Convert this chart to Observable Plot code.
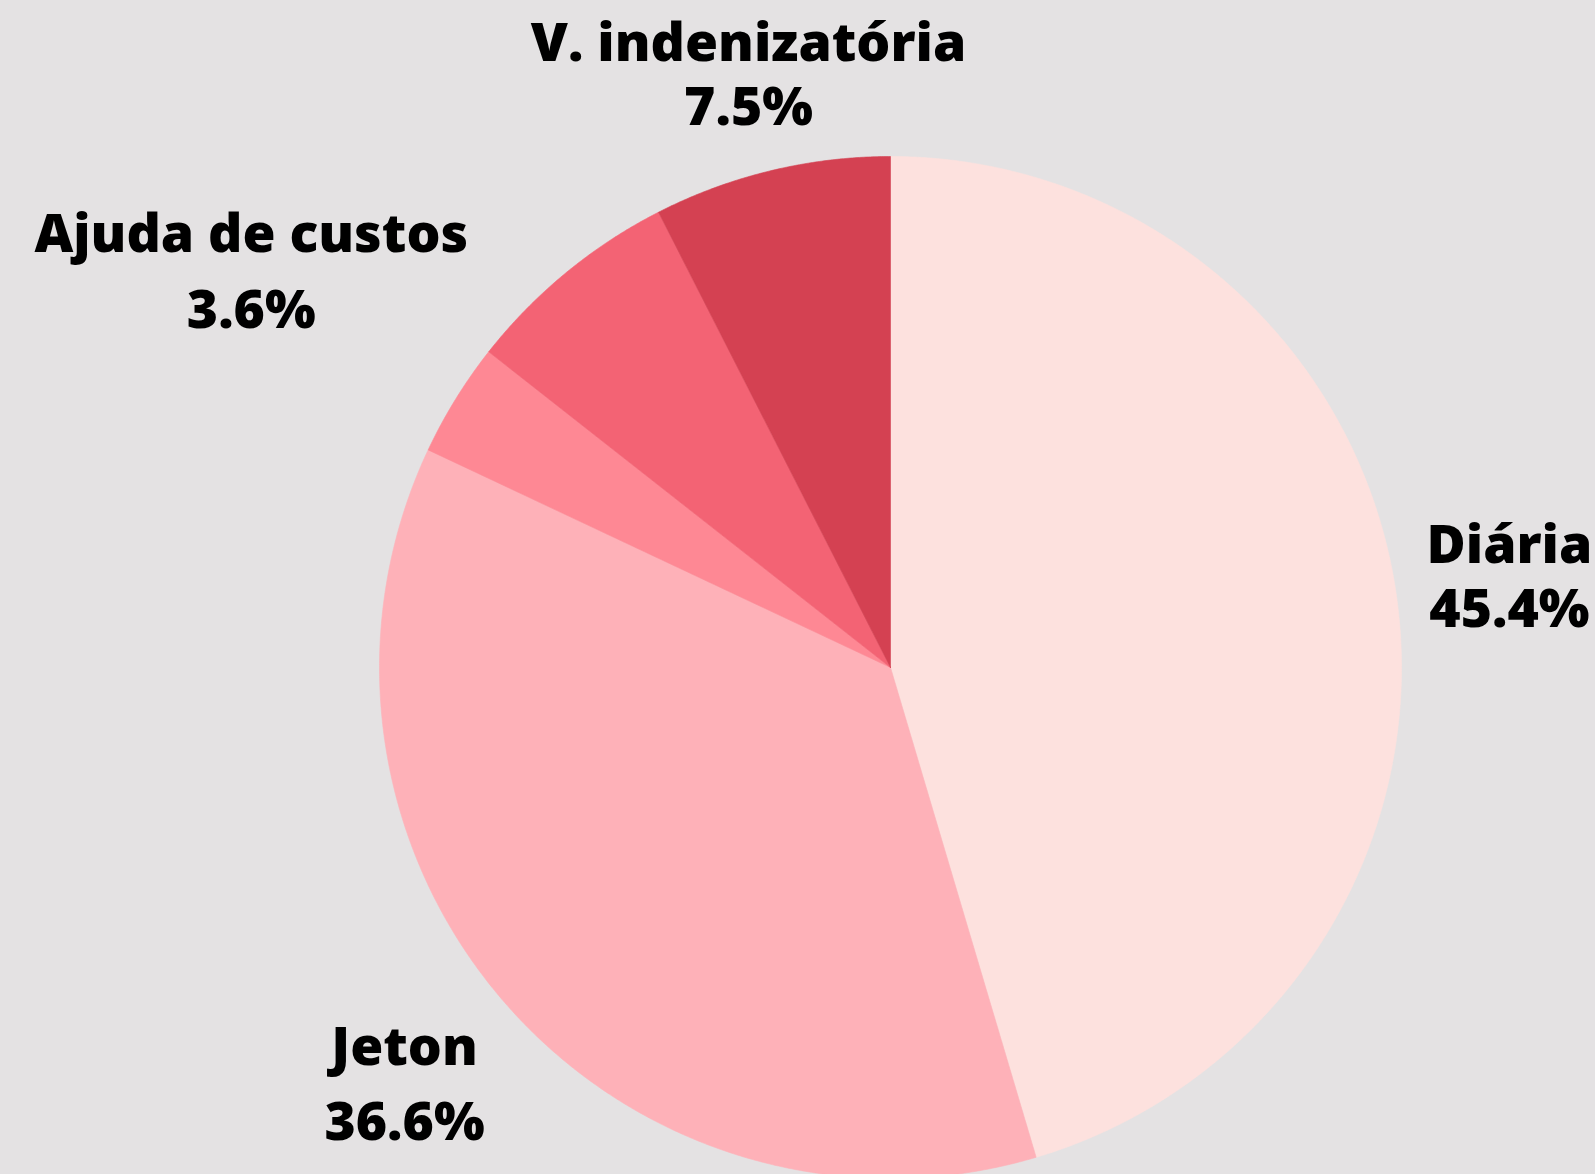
<!DOCTYPE html>
<html>
<head>
<meta charset="utf-8">
<script src="https://cdn.jsdelivr.net/npm/d3@7"></script>
<script src="https://cdn.jsdelivr.net/npm/@observablehq/plot@0.6"></script>
<style>
  html, body { margin: 0; padding: 0; background: #e4e2e3; }
  #chart svg { display: block; }
</style>
</head>
<body>
<div id="chart"></div>
<script>
// ---- data ----
const categories = ["Diária", "Jeton", "Ajuda de custos", "Outros", "V. indenizatória"];
const shares = [45.4, 36.6, 3.6, 6.9, 7.5];            // percent
const showLabel = [true, true, true, false, true];
const sliceColors = ["#fde1de", "#feb1b8", "#fe8894", "#f36374", "#d44152"];

// ---- layout (label placement relative to the slice mid-angle) ----
const labelRadius = [1.224, 1.254, 1.47, 1.2, 1.19];   // in pie radii
const labelGapPx = [64, 75, 76, 64, 64];               // distance between the two label lines

const W = 1595, H = 1174;
const cx = 890, cy = 667, R = 511;
const fontSize = 53.5;

// pie angles (clockwise from 12 o'clock)
const total = d3.sum(shares);
let acc = 0;
const slices = categories.map((name, i) => {
  const a0 = acc / total * 2 * Math.PI;
  acc += shares[i];
  const a1 = acc / total * 2 * Math.PI;
  return {name, value: shares[i], a0, a1, mid: (a0 + a1) / 2, i};
});

// polygon outline for every slice, in units of the radius
const outline = [];
for (const s of slices) {
  outline.push({name: s.name, x: 0, y: 0});
  const n = Math.max(2, Math.ceil((s.a1 - s.a0) / (Math.PI / 720)));
  for (let k = 0; k <= n; ++k) {
    const a = s.a0 + (s.a1 - s.a0) * k / n;
    outline.push({name: s.name, x: Math.sin(a), y: -Math.cos(a)});
  }
  outline.push({name: s.name, x: 0, y: 0});
}

const labels = slices.filter(s => showLabel[s.i]).map(s => {
  const k = labelRadius[s.i];
  const half = labelGapPx[s.i] / 2 / R;
  const x = k * Math.sin(s.mid), y = -k * Math.cos(s.mid);
  return {name: s.name, pct: d3.format(".1f")(s.value) + "%", x, yName: y - half, yPct: y + half};
});

const chart = Plot.plot({
  width: W,
  height: H,
  margin: 0,
  style: {background: "#e4e2e3", fontFamily: "'Open Sans', sans-serif"},
  x: {domain: [-cx / R, (W - cx) / R], range: [0, W], axis: null},
  y: {domain: [-cy / R, (H - cy) / R], range: [0, H], axis: null},
  color: {domain: categories, range: sliceColors},
  marks: [
    Plot.line(outline, {x: "x", y: "y", z: "name", fill: "name", stroke: "name", strokeWidth: 0.6, curve: "linear"}),
    Plot.text(labels, {x: "x", y: "yName", text: "name", fontSize, fontWeight: 800, fill: "#000", textAnchor: "middle"}),
    Plot.text(labels, {x: "x", y: "yPct", text: "pct", fontSize, fontWeight: 800, fill: "#000", textAnchor: "middle"})
  ]
});
document.getElementById("chart").appendChild(chart);
</script>
</body>
</html>
